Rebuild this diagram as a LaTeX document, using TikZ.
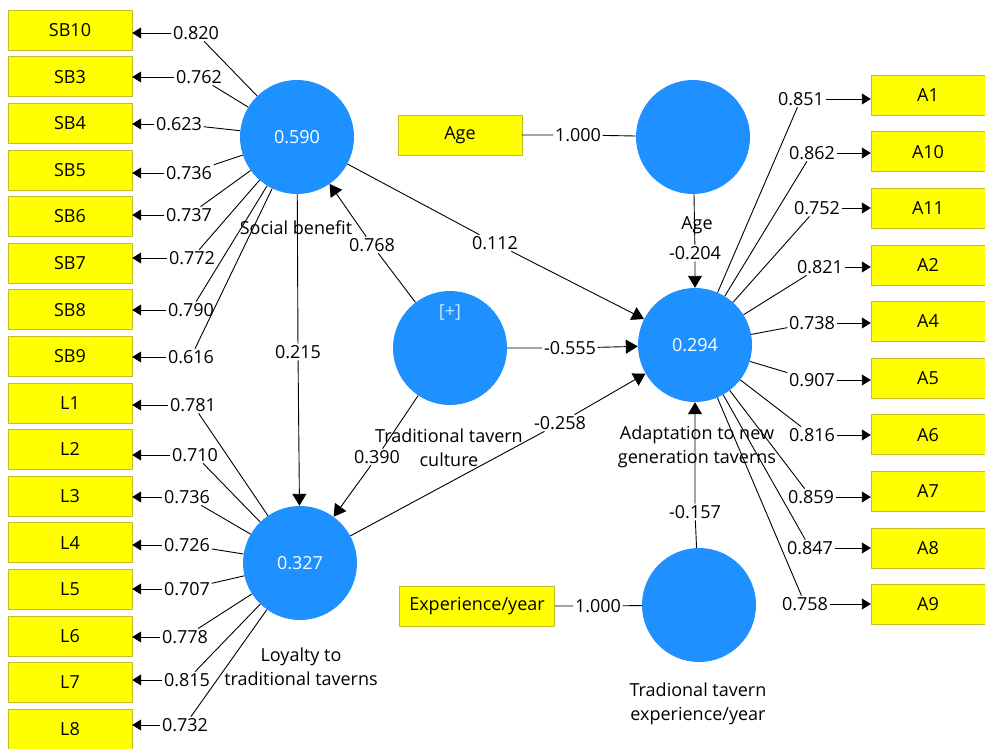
\documentclass[tikz,border=0pt]{standalone}
\usepackage{fontspec}
\setmainfont{Open Sans}
\usetikzlibrary{arrows.meta}
\usetikzlibrary{positioning}
\definecolor{lvblue}{RGB}{30,144,255}
\definecolor{mvyellow}{RGB}{255,255,0}
\definecolor{mvborder}{RGB}{196,188,40}
\definecolor{plusblue}{RGB}{200,232,255}

\begin{document}
\begin{tikzpicture}[
		x=1pt, y=-1pt,
		line join=round,
		every node/.style={font=\fontsize{18}{24}\selectfont},
		latent/.style={circle, fill=lvblue, minimum size=114pt, inner sep=0pt, text=white},
		indicator/.style={draw=mvborder, fill=mvyellow, minimum width=124pt, minimum height=40pt, inner sep=0pt},
		coef/.style={inner sep=1.5pt},
		link/.style={line width=0.9pt},
		arrowline/.style={link, -{Triangle[length=12pt,width=14pt]}},
		loadarrow/.style={link, -{Triangle[length=9pt,width=11pt]}}
	]
	\useasboundingbox (0,0) rectangle (985,749);

	% Latent variables
	\node[latent] (SB) at (297,137) {0.590};
	\node[latent] (TTC) at (450,348) {};
	\node[latent] (ADAPT) at (695,345) {0.294};
	\node[latent] (AGE) at (693,137) {};
	\node[latent] (LOY) at (300,563) {0.327};
	\node[latent] (EXP) at (699,605) {};
	\node[text=plusblue] (plus) at (450,312) {[+]};

	% Names
	\node (nSB) at (296,228) {Social benefit};
	\node[align=center] (nTTC) at (449,448) {Traditional tavern\\culture};
	\node[align=center] (nADAPT) at (697,447) {Adaptation to new\\generation taverns};
	\node (nAGE) at (697,225) {Age};
	\node[align=center] (nLOY) at (301,667) {Loyalty to\\traditional taverns};
	\node[align=center] (nEXP) at (698,704) {Tradional tavern\\experience/year};

	% Indicators (left)
	\foreach \name [count=\i from 0] in {SB10,SB3,SB4,SB5,SB6,SB7,SB8,SB9,L1,L2,L3,L4,L5,L6,L7,L8}{
			\node[indicator] (\name) at (70,30+46.6*\i) {\name};
		}

	% Indicators (right)
	\foreach \name [count=\i from 0] in {A1,A10,A11,A2,A4,A5,A6,A7,A8,A9}{
			\node[indicator, minimum width=114pt] (\name) at (928,95+56.6*\i) {\name};
		}

	% Single items
	\node[indicator] (AgeBox) at (460,135) {Age};
	\node[indicator, minimum width=155pt] (ExpBox) at (477,606) {Experience/year};
	\node[coef] (lAgeBox) at (578,135) {1.000};
	\node[coef] (lExpBox) at (598,606) {1.000};
	\draw[link] (AgeBox) -- (lAgeBox) -- (AGE);
	\draw[link] (ExpBox) -- (lExpBox) -- (EXP);

	% Outer loadings, social benefit
	\foreach \name/\val/\x/\y in {
			SB10/0.820/196/33, SB3/0.762/199/77, SB4/0.623/179/124,
			SB5/0.736/189/173, SB6/0.737/189/215, SB7/0.772/192/258,
			SB8/0.790/191/310, SB9/0.616/191/357}{
			\node[coef] (l\name) at (\x,\y) {\val};
			\draw[link] (SB) -- (l\name);
			\draw[loadarrow] (l\name) -- (l\name -| \name.east);
		}

	% Outer loadings, loyalty
	\foreach \name/\val/\x/\y in {
			L1/0.781/193/405, L2/0.710/195/455, L3/0.736/187/497,
			L4/0.726/187/545, L5/0.707/187/589, L6/0.778/185/637,
			L7/0.815/187/680, L8/0.732/185/725}{
			\node[coef] (l\name) at (\x,\y) {\val};
			\draw[link] (LOY) -- (l\name);
			\draw[loadarrow] (l\name) -- (l\name -| \name.east);
		}

	% Outer loadings, adaptation
	\foreach \name/\val/\x/\y in {
			A1/0.851/801/99, A10/0.862/812/153, A11/0.752/817/208,
			A2/0.821/820/267, A4/0.738/812/323, A5/0.907/812/380,
			A6/0.816/812/435, A7/0.859/811/497, A8/0.847/810/548,
			A9/0.758/805/604}{
			\node[coef] (l\name) at (\x,\y) {\val};
			\draw[link] (ADAPT) -- (l\name);
			\draw[loadarrow] (l\name) -- (l\name -| \name.west);
		}

	% Path coefficients
	\node[coef] (pTTCSB) at (372,245) {0.768};
	\node[coef] (pSBADAPT) at (495,243) {0.112};
	\node[coef] (pTTCADAPT) at (570,348) {-0.555};
	\node[coef] (pLOYADAPT) at (560,423) {-0.258};
	\node[coef] (pTTCLOY) at (377,457) {0.390};
	\node[coef] (pSBLOY) at (298,352) {0.215};
	\node[coef] (pAGEADAPT) at (695,253) {-0.204};
	\node[coef] (pEXPADAPT) at (695,512) {-0.157};

	\draw[arrowline] (TTC) -- (pTTCSB) -- (SB);
	\draw[arrowline] (SB) -- (pSBADAPT) -- (ADAPT);
	\draw[arrowline] (TTC) -- (pTTCADAPT) -- (ADAPT);
	\draw[arrowline] (LOY) -- (pLOYADAPT) -- (ADAPT);
	\draw[arrowline] (TTC) -- (pTTCLOY) -- (LOY);
	\draw[arrowline] (SB) -- (pSBLOY) -- (LOY);
	\draw[arrowline] (AGE) -- (pAGEADAPT) -- (ADAPT);
	\draw[arrowline] (EXP) -- (pEXPADAPT) -- (ADAPT);
\end{tikzpicture}
\end{document}
